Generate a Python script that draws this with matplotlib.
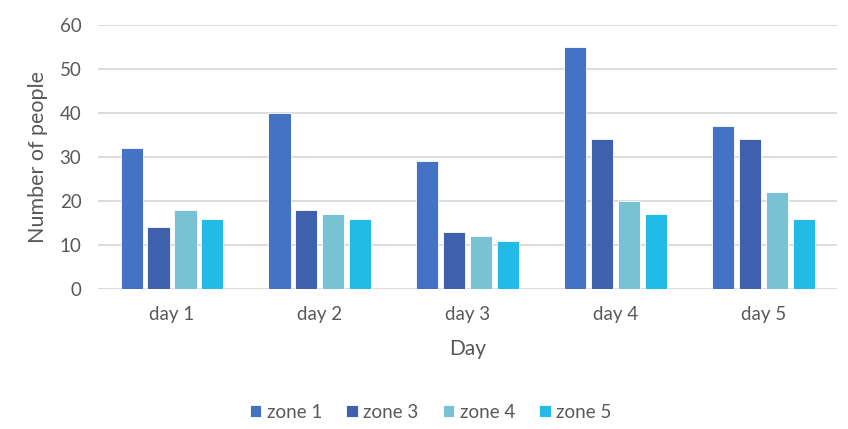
import numpy as np
import matplotlib.pyplot as plt

plt.rcParams['font.family'] = ['Lato', 'DejaVu Sans']

days = ["day 1", "day 2", "day 3", "day 4", "day 5"]
zones = ["zone 1", "zone 3", "zone 4", "zone 5"]
zone1 = [32, 40, 29, 55, 37]
zone3 = [14, 18, 13, 34, 34]
zone4 = [18, 17, 12, 20, 22]
zone5 = [16, 16, 11, 17, 16]
colors = ["#4472C4", "#3F60AC", "#78C2D4", "#22BAE6"]

fig = plt.figure(figsize=(8.48, 4.29), dpi=100)
ax = fig.add_axes([0.1156, 0.326, 0.872, 0.616])

x = np.arange(len(days))
step = 0.182
width = 0.15
for i, (vals, name) in enumerate(zip([zone1, zone3, zone4, zone5], zones)):
    ax.bar(x + (i - 1.5) * step, vals, width, color=colors[i], label=name,
           edgecolor="white", linewidth=0.6, zorder=3)

ax.set_xlim(-0.5, len(days) - 0.5)
ax.set_ylim(0, 60)
ax.set_yticks(range(0, 61, 10))
ax.set_xticks(x)
ax.set_xticklabels(days)
ax.grid(axis="y", color="#d9d9d9", linewidth=1.3, zorder=0)
for s in ax.spines.values():
    s.set_visible(False)
ax.tick_params(length=0, colors="#595959", labelsize=13.5)
ax.tick_params(axis="x", pad=12)
ax.tick_params(axis="y", pad=12)
ax.set_xlabel("Day", color="#595959", fontsize=15, labelpad=12)
ax.set_ylabel("Number of people", color="#595959", fontsize=15.5, labelpad=8)

leg = fig.legend(loc="lower center", bbox_to_anchor=(0.508, -0.02), ncol=4,
                 frameon=False, fontsize=13.5, handlelength=0.6, handleheight=0.6,
                 handletextpad=0.3, columnspacing=1.3, labelcolor="#595959")

fig.savefig("out.png", dpi=100)
